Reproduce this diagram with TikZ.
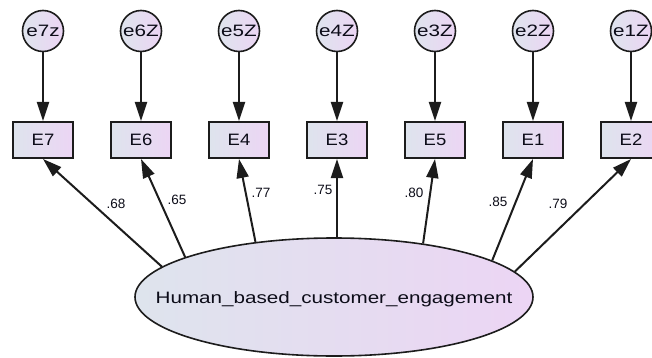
\documentclass[tikz,border=0pt]{standalone}
\usepackage{fontspec}
\usepackage{graphicx}
\setmainfont{Liberation Sans}
\usetikzlibrary{arrows.meta,shapes.geometric}

\definecolor{fillL}{RGB}{222,228,237}
\definecolor{fillR}{RGB}{236,213,244}
\definecolor{edge}{RGB}{28,28,28}
\definecolor{ink}{RGB}{12,12,24}

\tikzset{
  obsbox/.style={rectangle, draw=edge, line width=2pt, left color=fillL, right color=fillR,
    minimum width=60pt, minimum height=36pt, inner sep=0pt, text=ink,
    font=\fontsize{16.5}{19}\selectfont},
  errcirc/.style={circle, draw=edge, line width=1.6pt, shading angle=45, left color=fillL, right color=fillR,
    minimum size=41pt, inner sep=0pt, text=ink,
    font=\fontsize{16.5}{19}\selectfont},
  latent/.style={ellipse, draw=edge, line width=1.6pt, left color=fillL, right color=fillR,
    minimum width=398pt, minimum height=118pt, inner sep=0pt},
  caption/.style={inner sep=0pt, text=ink, font=\fontsize{16.5}{19}\selectfont},
  path/.style={draw=edge, line width=2pt, -{Triangle[length=19pt,width=12pt]}},
  wt/.style={text=ink, inner sep=0pt, font=\fontsize{13.5}{16}\selectfont}
}

\begin{document}
\begin{tikzpicture}[x=1pt, y=-1pt]
  \useasboundingbox (0,0) rectangle (652,358);

  % latent factor
  \node[latent] (F) at (334,297) {};
  \node[caption] (Fname) at (334,299) {\scalebox{1.25}[1]{Human\_based\_customer\_engagement}};

  % indicators and their error terms
  \foreach \nm/\err/\x in {E7/e7z/43, E6/e6Z/141, E4/e5Z/239, E3/e4Z/337,
                           E5/e3Z/435, E1/e2Z/533, E2/e1Z/631} {
    \node[obsbox] (\nm) at (\x,140) {\scalebox{1.12}[1]{\nm}};
    \node[errcirc] (\err) at (\x,31) {\scalebox{1.25}[1]{\err}};
    \draw[path] (\err.south) -- (\nm.north);
  }

  % factor loadings
  \draw[path] (F.170.6) -- (E7.south);
  \draw[path] (F.165.6) -- (E6.south);
  \draw[path] (F.145.8) -- (E4.south);
  \draw[path] (E3.south |- F.north) -- (E3.south);
  \draw[path] (F.31.5)  -- (E5.south);
  \draw[path] (F.13.3)  -- (E1.south);
  \draw[path] (F.8.6)   -- (E2.south);

  \node[wt] (l7) at (116,204)   {.68};
  \node[wt] (l6) at (177,199.5) {.65};
  \node[wt] (l4) at (261,192.5) {.77};
  \node[wt] (l3) at (323,190)   {.75};
  \node[wt] (l5) at (414,193)   {.80};
  \node[wt] (l1) at (498,201.5) {.85};
  \node[wt] (l2) at (558,204)   {.79};
\end{tikzpicture}
\end{document}
